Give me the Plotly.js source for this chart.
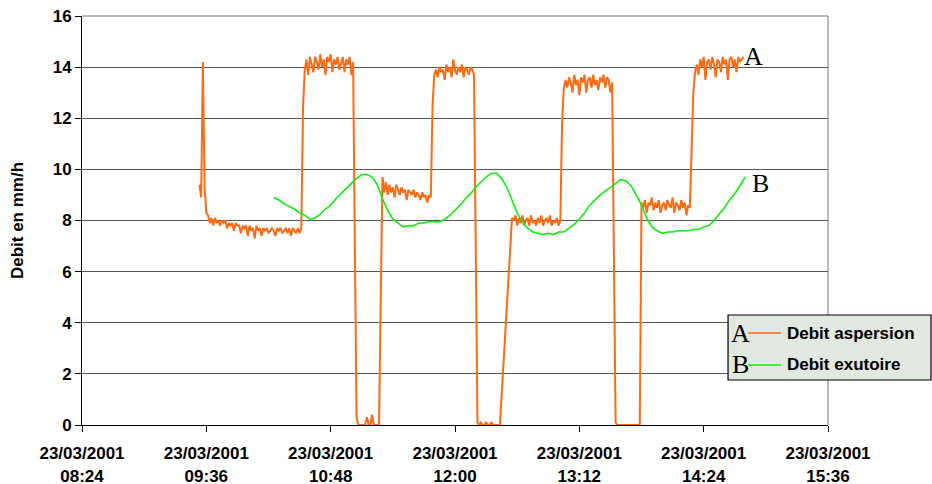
<!DOCTYPE html>
<html>
<head>
<meta charset="utf-8">
<script src="https://cdn.plot.ly/plotly-3.0.1.min.js"></script>
<style>
html,body{margin:0;padding:0;background:#fff;}
#chart{width:932px;height:484px;}
</style>
</head>
<body>
<div id="chart"></div>
<script>
// ---- Data ----
const tickTimes = ['2001-03-23 08:24','2001-03-23 09:36','2001-03-23 10:48','2001-03-23 12:00','2001-03-23 13:12','2001-03-23 14:24','2001-03-23 15:36'];
const tickLabels = ['23/03/2001<br>08:24','23/03/2001<br>09:36','23/03/2001<br>10:48','23/03/2001<br>12:00','23/03/2001<br>13:12','23/03/2001<br>14:24','23/03/2001<br>15:36'];

const seriesNames = ['Debit aspersion','Debit exutoire'];
const seriesLetters = ['A','B'];

// Debit aspersion, one reading per minute from 09:32
const aspersionStart = '2001-03-23T09:32:00';
const aspersionStepMin = 1;
const aspersion = [
  9.4, 8.9, 14.2, 9.3, 8.3,
  8.2, 7.9, 8.1, 7.8, 8.1, 7.9, 8.0, 7.8, 8.0, 7.9, 8.0, 7.7, 7.9, 7.8, 7.9, 7.6, 7.9, 7.8, 7.8, 7.5,
  7.8, 7.7, 7.8, 7.4, 7.8, 7.6, 7.7, 7.3, 7.8, 7.6, 7.7, 7.4, 7.7, 7.6, 7.7, 7.5, 7.6, 7.7, 7.6, 7.4,
  7.7, 7.6, 7.7, 7.5, 7.6, 7.7, 7.5, 7.7, 7.4, 7.7, 7.6, 7.5, 7.7, 7.5, 7.7,
  12.4, 13.9,
  14.3, 13.7, 14.4, 14.1, 13.8, 14.4, 14.2, 13.9, 14.5, 14.0, 14.3, 13.7, 14.4, 14.2, 14.5, 13.8,
  14.3, 14.1, 14.4, 13.9, 14.2, 14.4, 13.8, 14.3, 14.1, 14.4, 13.7, 14.2,
  7.0, 0.3,
  0, 0, 0, 0, 0, 0.3, 0, 0, 0.4, 0, 0, 0, 0,
  5.0, 9.7,
  9.1, 9.5, 9.0, 9.4, 9.1, 9.3, 8.9, 9.4, 9.2, 9.0, 9.3, 9.1, 9.2, 8.8, 9.2, 9.1, 9.0, 9.2, 8.9, 9.1,
  9.0, 8.8, 9.1, 8.9, 9.0, 8.7, 9.0, 8.9,
  12.5, 13.7,
  13.9, 13.6, 14.0, 13.8, 13.9, 13.5, 14.1, 13.8, 14.0, 13.6, 14.3, 13.9, 13.7, 14.0, 13.8, 14.1,
  13.6, 14.0, 13.9, 13.7, 14.0, 13.9, 13.7,
  7.0, 0.1,
  0, 0.1, 0, 0, 0.1, 0, 0, 0.1, 0, 0, 0, 0, 0,
  null, null, null, null, null, null,
  8.1,
  8.0, 8.2, 7.8, 8.1, 7.9, 8.2, 7.8, 8.0, 8.1, 7.8, 8.2, 7.9, 8.0, 7.8, 8.1, 7.9, 8.2, 7.8, 8.0, 8.1,
  7.9, 8.2, 7.8, 8.0, 7.9, 8.1, 7.8, 8.0,
  11.8, 13.2,
  13.5, 13.2, 13.6, 13.4, 13.0, 13.7, 13.3, 13.5, 12.9, 13.6, 13.4, 13.7, 13.0, 13.5, 13.6, 13.2,
  13.7, 13.3, 13.5, 13.1, 13.6, 13.4, 13.7, 13.2, 13.6, 13.5, 13.0, 13.4,
  6.5, 0.1,
  0, 0, 0, 0, 0, 0, 0, 0, 0, 0, 0, 0, 0, 0,
  8.7,
  8.5, 8.8, 8.3, 8.7, 8.6, 8.9, 8.4, 8.7, 8.5, 8.8, 8.3, 8.6, 8.7, 8.4, 8.8, 8.6, 8.5, 8.9, 8.3, 8.7,
  8.6, 8.4, 8.8, 8.5, 8.7, 8.2, 8.6, 8.5,
  10.5, 13.0, 13.8,
  14.1, 13.7, 14.3, 14.0, 14.4, 13.5, 14.2, 14.3, 13.9, 14.4, 14.1, 13.6, 14.3, 14.2, 13.8, 14.4,
  14.1, 14.3, 13.5, 14.3, 14.4, 14.0, 14.3, 13.8, 14.4, 14.2, 14.3, 14.4
];

// Debit exutoire, one reading every 3 minutes from 10:15
const exutoireStart = '2001-03-23T10:15:00';
const exutoireStepMin = 3;
const exutoire = [
  8.9, 8.8, 8.65, 8.55, 8.45, 8.3, 8.2, 8.05, 8.1, 8.25, 8.45, 8.6, 8.85, 9.05, 9.25, 9.45, 9.65, 9.8,
  9.8, 9.7, 9.4, 8.85, 8.4, 8.05, 7.9, 7.75, 7.8, 7.8, 7.9, 7.9, 7.95, 7.95, 7.95, 8.05, 8.2, 8.4,
  8.6, 8.85, 9.05, 9.3, 9.5, 9.7, 9.85, 9.85, 9.65, 9.3, 8.8, 8.3, 7.95, 7.7, 7.55, 7.5, 7.45, 7.5,
  7.45, 7.55, 7.55, 7.7, 7.85, 8.05, 8.3, 8.6, 8.8, 9.0, 9.15, 9.3, 9.45, 9.6, 9.55, 9.35, 9.0, 8.6,
  8.1, 7.75, 7.6, 7.5, 7.55, 7.55, 7.6, 7.6, 7.6, 7.65, 7.65, 7.75, 7.8, 8.0, 8.25, 8.5, 8.8, 9.05,
  9.35, 9.7
];

// ---- Helpers ----
function timeAxis(startIso, stepMin, n) {
  const base = Date.parse(startIso + 'Z');
  const out = [];
  for (let i = 0; i < n; i++) {
    out.push(new Date(base + i * stepMin * 60000).toISOString().slice(0, 19).replace('T', ' '));
  }
  return out;
}

const ORANGE = '#ff6a13';
const GREEN = '#11ee11';
const SANS = 'Liberation Sans, Arial, sans-serif';
const SERIF = 'Liberation Serif, Times New Roman, serif';

const traces = [
  {
    x: timeAxis(aspersionStart, aspersionStepMin, aspersion.length),
    y: aspersion,
    name: seriesNames[0],
    type: 'scatter', mode: 'lines', connectgaps: true,
    line: {color: ORANGE, width: 2},
    hoverinfo: 'skip'
  },
  {
    x: timeAxis(exutoireStart, exutoireStepMin, exutoire.length),
    y: exutoire,
    name: seriesNames[1],
    type: 'scatter', mode: 'lines',
    line: {color: GREEN, width: 1.6},
    hoverinfo: 'skip'
  }
];

const layout = {
  width: 932, height: 484,
  margin: {l: 82, r: 104, t: 16, b: 59, pad: 0},
  paper_bgcolor: '#ffffff', plot_bgcolor: '#ffffff',
  showlegend: false,
  xaxis: {
    type: 'date',
    range: [tickTimes[0], tickTimes[tickTimes.length - 1]],
    tickmode: 'array', tickvals: tickTimes, ticktext: tickLabels,
    ticks: 'outside', ticklen: 6, tickcolor: '#000', tickwidth: 1,
    ticklabelstandoff: 7,
    showline: true, linecolor: '#000', linewidth: 1,
    showgrid: false, zeroline: false,
    tickfont: {family: SANS, size: 17, weight: 'bold', color: '#000'}
  },
  yaxis: {
    range: [0, 16], tick0: 0, dtick: 2,
    ticks: 'outside', ticklen: 6, tickcolor: '#000', tickwidth: 1,
    showline: true, linecolor: '#000', linewidth: 1,
    showgrid: true, gridcolor: '#555', gridwidth: 1, zeroline: false,
    tickfont: {family: SANS, size: 17, weight: 'bold', color: '#000'},
    title: {text: 'Debit en mm/h', font: {family: SANS, size: 17, weight: 'bold', color: '#000'}, standoff: 24}
  },
  shapes: [
    {type: 'line', xref: 'paper', yref: 'paper', x0: 1, x1: 1, y0: 0, y1: 1, line: {color: '#777', width: 1}},
    {type: 'line', xref: 'paper', yref: 'paper', x0: 0, x1: 1, y0: 1, y1: 1, line: {color: '#777', width: 1}},
    {type: 'rect', xref: 'paper', yref: 'paper', x0: 0.8660, x1: 1.1381, y0: 0.1100, y1: 0.2689,
     fillcolor: '#e0e8df', line: {color: '#000', width: 1.2}, layer: 'above'},
    {type: 'line', xref: 'paper', yref: 'paper', x0: 0.8928, x1: 0.9370, y0: 0.2249, y1: 0.2249,
     line: {color: ORANGE, width: 1.6}, layer: 'above'},
    {type: 'line', xref: 'paper', yref: 'paper', x0: 0.8928, x1: 0.9370, y0: 0.1467, y1: 0.1467,
     line: {color: GREEN, width: 1.6}, layer: 'above'}
  ],
  annotations: [
    {x: '2001-03-23 14:53', y: 14.4, xref: 'x', yref: 'y', text: seriesLetters[0], showarrow: false,
     font: {family: SERIF, size: 26, color: '#000'}, xanchor: 'center', yanchor: 'middle'},
    {x: '2001-03-23 14:56:40', y: 9.43, xref: 'x', yref: 'y', text: seriesLetters[1], showarrow: false,
     font: {family: SERIF, size: 26, color: '#000'}, xanchor: 'center', yanchor: 'middle'},
    {x: 0.8827, y: 0.2225, xref: 'paper', yref: 'paper', text: seriesLetters[0], showarrow: false,
     font: {family: SERIF, size: 26, color: '#000'}, xanchor: 'center', yanchor: 'middle'},
    {x: 0.8827, y: 0.1467, xref: 'paper', yref: 'paper', text: seriesLetters[1], showarrow: false,
     font: {family: SERIF, size: 26, color: '#000'}, xanchor: 'center', yanchor: 'middle'},
    {x: 0.9424, y: 0.2249, xref: 'paper', yref: 'paper', text: seriesNames[0], showarrow: false,
     font: {family: SANS, size: 17, weight: 'bold', color: '#000'}, xanchor: 'left', yanchor: 'middle'},
    {x: 0.9424, y: 0.1467, xref: 'paper', yref: 'paper', text: seriesNames[1], showarrow: false,
     font: {family: SANS, size: 17, weight: 'bold', color: '#000'}, xanchor: 'left', yanchor: 'middle'}
  ]
};

Plotly.newPlot('chart', traces, layout, {staticPlot: true, displayModeBar: false});
</script>
</body>
</html>
